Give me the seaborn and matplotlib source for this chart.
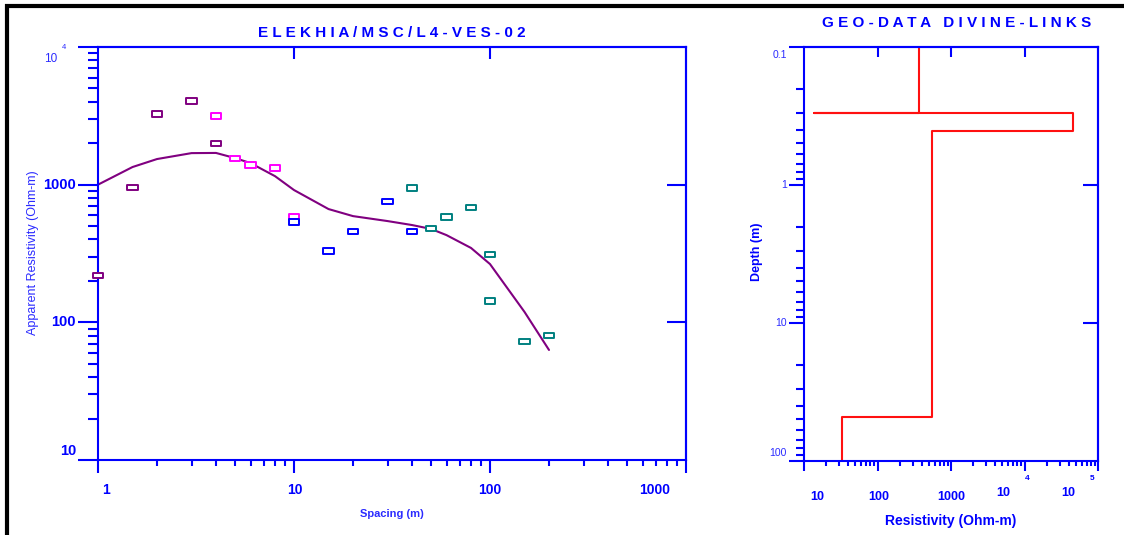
import numpy as np
import pandas as pd
import matplotlib
matplotlib.use("Agg")
import matplotlib.pyplot as plt
from matplotlib.lines import Line2D
from matplotlib.path import Path
from matplotlib.ticker import LogLocator, NullFormatter, NullLocator, FixedLocator
import seaborn as sns

# ---- Field sounding: half electrode spacing (m) and apparent resistivity (Ohm-m) ----
seg1_spacing = [1, 1.5, 2, 3, 4]
seg1_rho = [220, 960, 3260, 4050, 2000]
seg2_spacing = [4, 5, 6, 8, 10]
seg2_rho = [3150, 1560, 1390, 1320, 590]
seg3_spacing = [10, 15, 20, 30, 40]
seg3_rho = [535, 330, 460, 750, 460]
seg4_spacing = [40, 50, 60, 80, 100, 100, 150, 200]
seg4_rho = [945, 477, 582, 687, 313, 143, 73, 80]
segment_colors = ["#800080", "#FF00FF", "#0000FF", "#008080"]

# ---- Computed response of the interpreted model ----
model_spacing = [1, 1.5, 2, 3, 4, 5, 6, 8, 10, 15, 20, 30, 40, 50, 60, 80, 100, 150, 200]
model_rho = [1000, 1343, 1535, 1695, 1700, 1560, 1435, 1153, 914, 665, 591,
             544, 509, 477, 430, 347, 265, 119, 63]

# ---- Interpreted layered model (step path): resistivity vs depth ----
layer_rho = [370, 370, 13.7, 45000, 45000, 555, 555, 33, 33]
layer_depth = [0.1, 0.3, 0.3, 0.3, 0.406, 0.406, 48, 48, 100]

# ---- Texts ----
title_left = "ELEKHIA/MSC/L4-VES-02"
title_right = "GEO-DATA DIVINE-LINKS"
left_xticks = [1, 10, 100, 1000]
left_xlabels = ["1", "10", "100", "1000"]
left_yticks = [10, 100, 1000]
left_ylabels = ["10", "100", "1000"]
right_yticks = [0.1, 1, 10, 100]
right_ylabels = ["0.1", "1", "10", "100"]
right_xticks = [10, 100, 1000]
right_xlabels = ["10", "100", "1000"]

BLUE = "#0000FF"
LIGHT_BLUE = "#2B2BFF"

sns.set_theme(style="white", context="paper")
plt.rcParams["font.family"] = ["Liberation Sans", "DejaVu Sans"]

W, H = 1124, 535
fig = plt.figure(figsize=(W / 100, H / 100), dpi=100)
fig.patch.set_facecolor("white")


def fx(px):
    return px / W


def fy(py):
    return 1 - py / H


ax1 = fig.add_axes([fx(98), fy(460), fx(686) - fx(98), fy(47) - fy(460)])
ax2 = fig.add_axes([fx(804), fy(461), fx(1098) - fx(804), fy(47) - fy(461)])

for ax in (ax1, ax2):
    ax.set_facecolor("white")
    ax.set_xscale("log")
    ax.set_yscale("log")
    for sp in ax.spines.values():
        sp.set_color(BLUE)
        sp.set_linewidth(1.5)
        sp.set_visible(True)

ax1.set_xlim(1, 1000)
ax1.set_ylim(10, 1e4)
ax2.set_xlim(10, 1e5)
ax2.set_ylim(100, 0.1)

# ---- Left panel: sounding curve ----
df = pd.concat([
    pd.DataFrame({"spacing": seg1_spacing, "rho": seg1_rho, "segment": "1"}),
    pd.DataFrame({"spacing": seg2_spacing, "rho": seg2_rho, "segment": "2"}),
    pd.DataFrame({"spacing": seg3_spacing, "rho": seg3_rho, "segment": "3"}),
    pd.DataFrame({"spacing": seg4_spacing, "rho": seg4_rho, "segment": "4"}),
], ignore_index=True)

sns.lineplot(x=model_spacing, y=model_rho, color="#800080", lw=1.5, ax=ax1,
             estimator=None, sort=False, zorder=2)

rect = Path([(-1, -0.5), (1, -0.5), (1, 0.5), (-1, 0.5), (-1, -0.5)],
            [Path.MOVETO, Path.LINETO, Path.LINETO, Path.LINETO, Path.CLOSEPOLY])
n_before = len(ax1.collections)
sns.scatterplot(data=df, x="spacing", y="rho", hue="segment", palette=segment_colors,
                marker=rect, s=55, linewidth=1.4, legend=False, ax=ax1, zorder=3,
                clip_on=False)
for coll in ax1.collections[n_before:]:
    fc = coll.get_facecolors()
    coll.set_edgecolors(fc)
    coll.set_facecolors("white")

# ---- Right panel: layer model ----
sns.lineplot(x=layer_rho, y=layer_depth, color="#FF1010", lw=1.5, ax=ax2,
             estimator=None, sort=False)

ax1.set_xlabel("")
ax1.set_ylabel("")
ax2.set_xlabel("")
ax2.set_ylabel("")

# ---- Ticks ----
minor = lambda: LogLocator(base=10, subs=np.arange(2, 10), numticks=100)
major = lambda: LogLocator(base=10, numticks=100)
for ax in (ax1, ax2):
    ax.xaxis.set_major_locator(major())
    ax.xaxis.set_minor_locator(minor())
    ax.yaxis.set_major_locator(major())
    ax.yaxis.set_minor_locator(minor())
    ax.xaxis.set_major_formatter(NullFormatter())
    ax.xaxis.set_minor_formatter(NullFormatter())
    ax.yaxis.set_major_formatter(NullFormatter())
    ax.yaxis.set_minor_formatter(NullFormatter())

ax1.tick_params(axis="x", which="major", direction="out", length=9, width=1.5, color=BLUE,
                bottom=True, top=False)
ax1.tick_params(axis="x", which="minor", direction="out", length=4.5, width=1.5, color=BLUE,
                bottom=True, top=False)
ax1.tick_params(axis="y", which="major", direction="out", length=14.5, width=1.5, color=BLUE,
                left=True, right=False)
ax1.tick_params(axis="y", which="minor", direction="out", length=7.5, width=1.5, color=BLUE,
                left=True, right=False)

ax2.tick_params(axis="x", which="major", direction="out", length=7, width=1.5, color=BLUE,
                bottom=True, top=False)
ax2.tick_params(axis="x", which="minor", direction="out", length=3.5, width=1.5, color=BLUE,
                bottom=True, top=False)
ax2.tick_params(axis="y", which="major", direction="out", length=10.5, width=1.5, color=BLUE,
                left=True, right=False)
ax2.tick_params(axis="y", which="minor", direction="out", length=6, width=1.5, color=BLUE,
                left=True, right=False)

# Inward ticks on the top and right frames
def inner_ticks(ax, xt, yt, lx, ly):
    top = ax.secondary_xaxis("top")
    top.xaxis.set_major_locator(FixedLocator(xt))
    top.xaxis.set_minor_locator(NullLocator())
    top.xaxis.set_major_formatter(NullFormatter())
    top.tick_params(axis="x", which="major", direction="in", length=lx, width=1.5, color=BLUE)
    top.spines["top"].set_color(BLUE)
    top.spines["top"].set_linewidth(1.5)
    right = ax.secondary_yaxis("right")
    right.yaxis.set_major_locator(FixedLocator(yt))
    right.yaxis.set_minor_locator(NullLocator())
    right.yaxis.set_major_formatter(NullFormatter())
    right.tick_params(axis="y", which="major", direction="in", length=ly, width=1.5, color=BLUE)
    right.spines["right"].set_color(BLUE)
    right.spines["right"].set_linewidth(1.5)


inner_ticks(ax1, [10, 100], [100, 1000], 8.5, 14)
inner_ticks(ax2, [100, 1000, 1e4], [1, 10], 7.5, 10.5)


# ---- Tick labels ----
def xlab(ax, x, text, dx, dy, size, weight="bold", color=BLUE, ha="center"):
    ax.annotate(text, xy=(x, 0), xycoords=ax.get_xaxis_transform(), xytext=(dx, dy),
                textcoords="offset pixels", ha=ha, va="center", fontsize=size,
                fontweight=weight, color=color, annotation_clip=False)


def ylab(ax, y, text, dx, dy, size, weight="bold", color=BLUE, ha="right"):
    ax.annotate(text, xy=(0, y), xycoords=ax.get_yaxis_transform(), xytext=(dx, dy),
                textcoords="offset pixels", ha=ha, va="center", fontsize=size,
                fontweight=weight, color=color, annotation_clip=False)


for x, t, dx in zip(left_xticks, left_xlabels, [8, 1, 0, -31]):
    xlab(ax1, x, t, dx, -30, 10)
for y, t, dy in zip(left_yticks, left_ylabels, [9, 0, 0]):
    ylab(ax1, y, t, -22, dy, 10.5)
ylab(ax1, 1e4, "10", -41, -12, 8.5, weight="normal", color=LIGHT_BLUE)
ylab(ax1, 1e4, "4", -34.5, -1, 5.5, weight="normal", color=LIGHT_BLUE, ha="center")

for y, t, dy in zip(right_yticks, right_ylabels, [-8, 0, 0, 8]):
    ylab(ax2, y, t, -17, dy, 7.5, weight="normal", color=LIGHT_BLUE)
for x, t, dx in zip(right_xticks, right_xlabels, [13, 1, 0]):
    xlab(ax2, x, t, dx, -36, 9)
xlab(ax2, 1e4, "10", -21, -32, 9)
xlab(ax2, 1e4, "4", 3, -18, 6)
xlab(ax2, 1e5, "10", -30, -32, 9)
xlab(ax2, 1e5, "5", -6, -18, 6)

# ---- Titles and axis labels ----
fig.text(fx(392), fy(33), " ".join(title_left), ha="center", va="center",
         fontsize=11, fontweight="bold", color=BLUE)
fig.text(fx(957), fy(23), " ".join(title_right), ha="center", va="center",
         fontsize=11, fontweight="bold", color=BLUE)
fig.text(fx(392), fy(514), "Spacing (m)", ha="center", va="center",
         fontsize=8, fontweight="bold", color=LIGHT_BLUE)
fig.text(fx(951), fy(521), "Resistivity (Ohm-m)", ha="center", va="center",
         fontsize=10, fontweight="bold", color=BLUE)
fig.text(fx(33), fy(253), "Apparent Resistivity (Ohm-m)", ha="center", va="center",
         rotation=90, fontsize=9, color=LIGHT_BLUE)
fig.text(fx(757), fy(252), "Depth (m)", ha="center", va="center",
         rotation=90, fontsize=9, fontweight="bold", color=BLUE)

# ---- Page frame (top and left edges) ----
fig.add_artist(Line2D([fx(5), 1], [fy(5.5), fy(5.5)], transform=fig.transFigure,
                      color="black", lw=3, solid_capstyle="butt"))
fig.add_artist(Line2D([fx(7), fx(7)], [fy(4), 0], transform=fig.transFigure,
                      color="black", lw=3, solid_capstyle="butt"))

fig.savefig("out.png", dpi=100, facecolor="white")
